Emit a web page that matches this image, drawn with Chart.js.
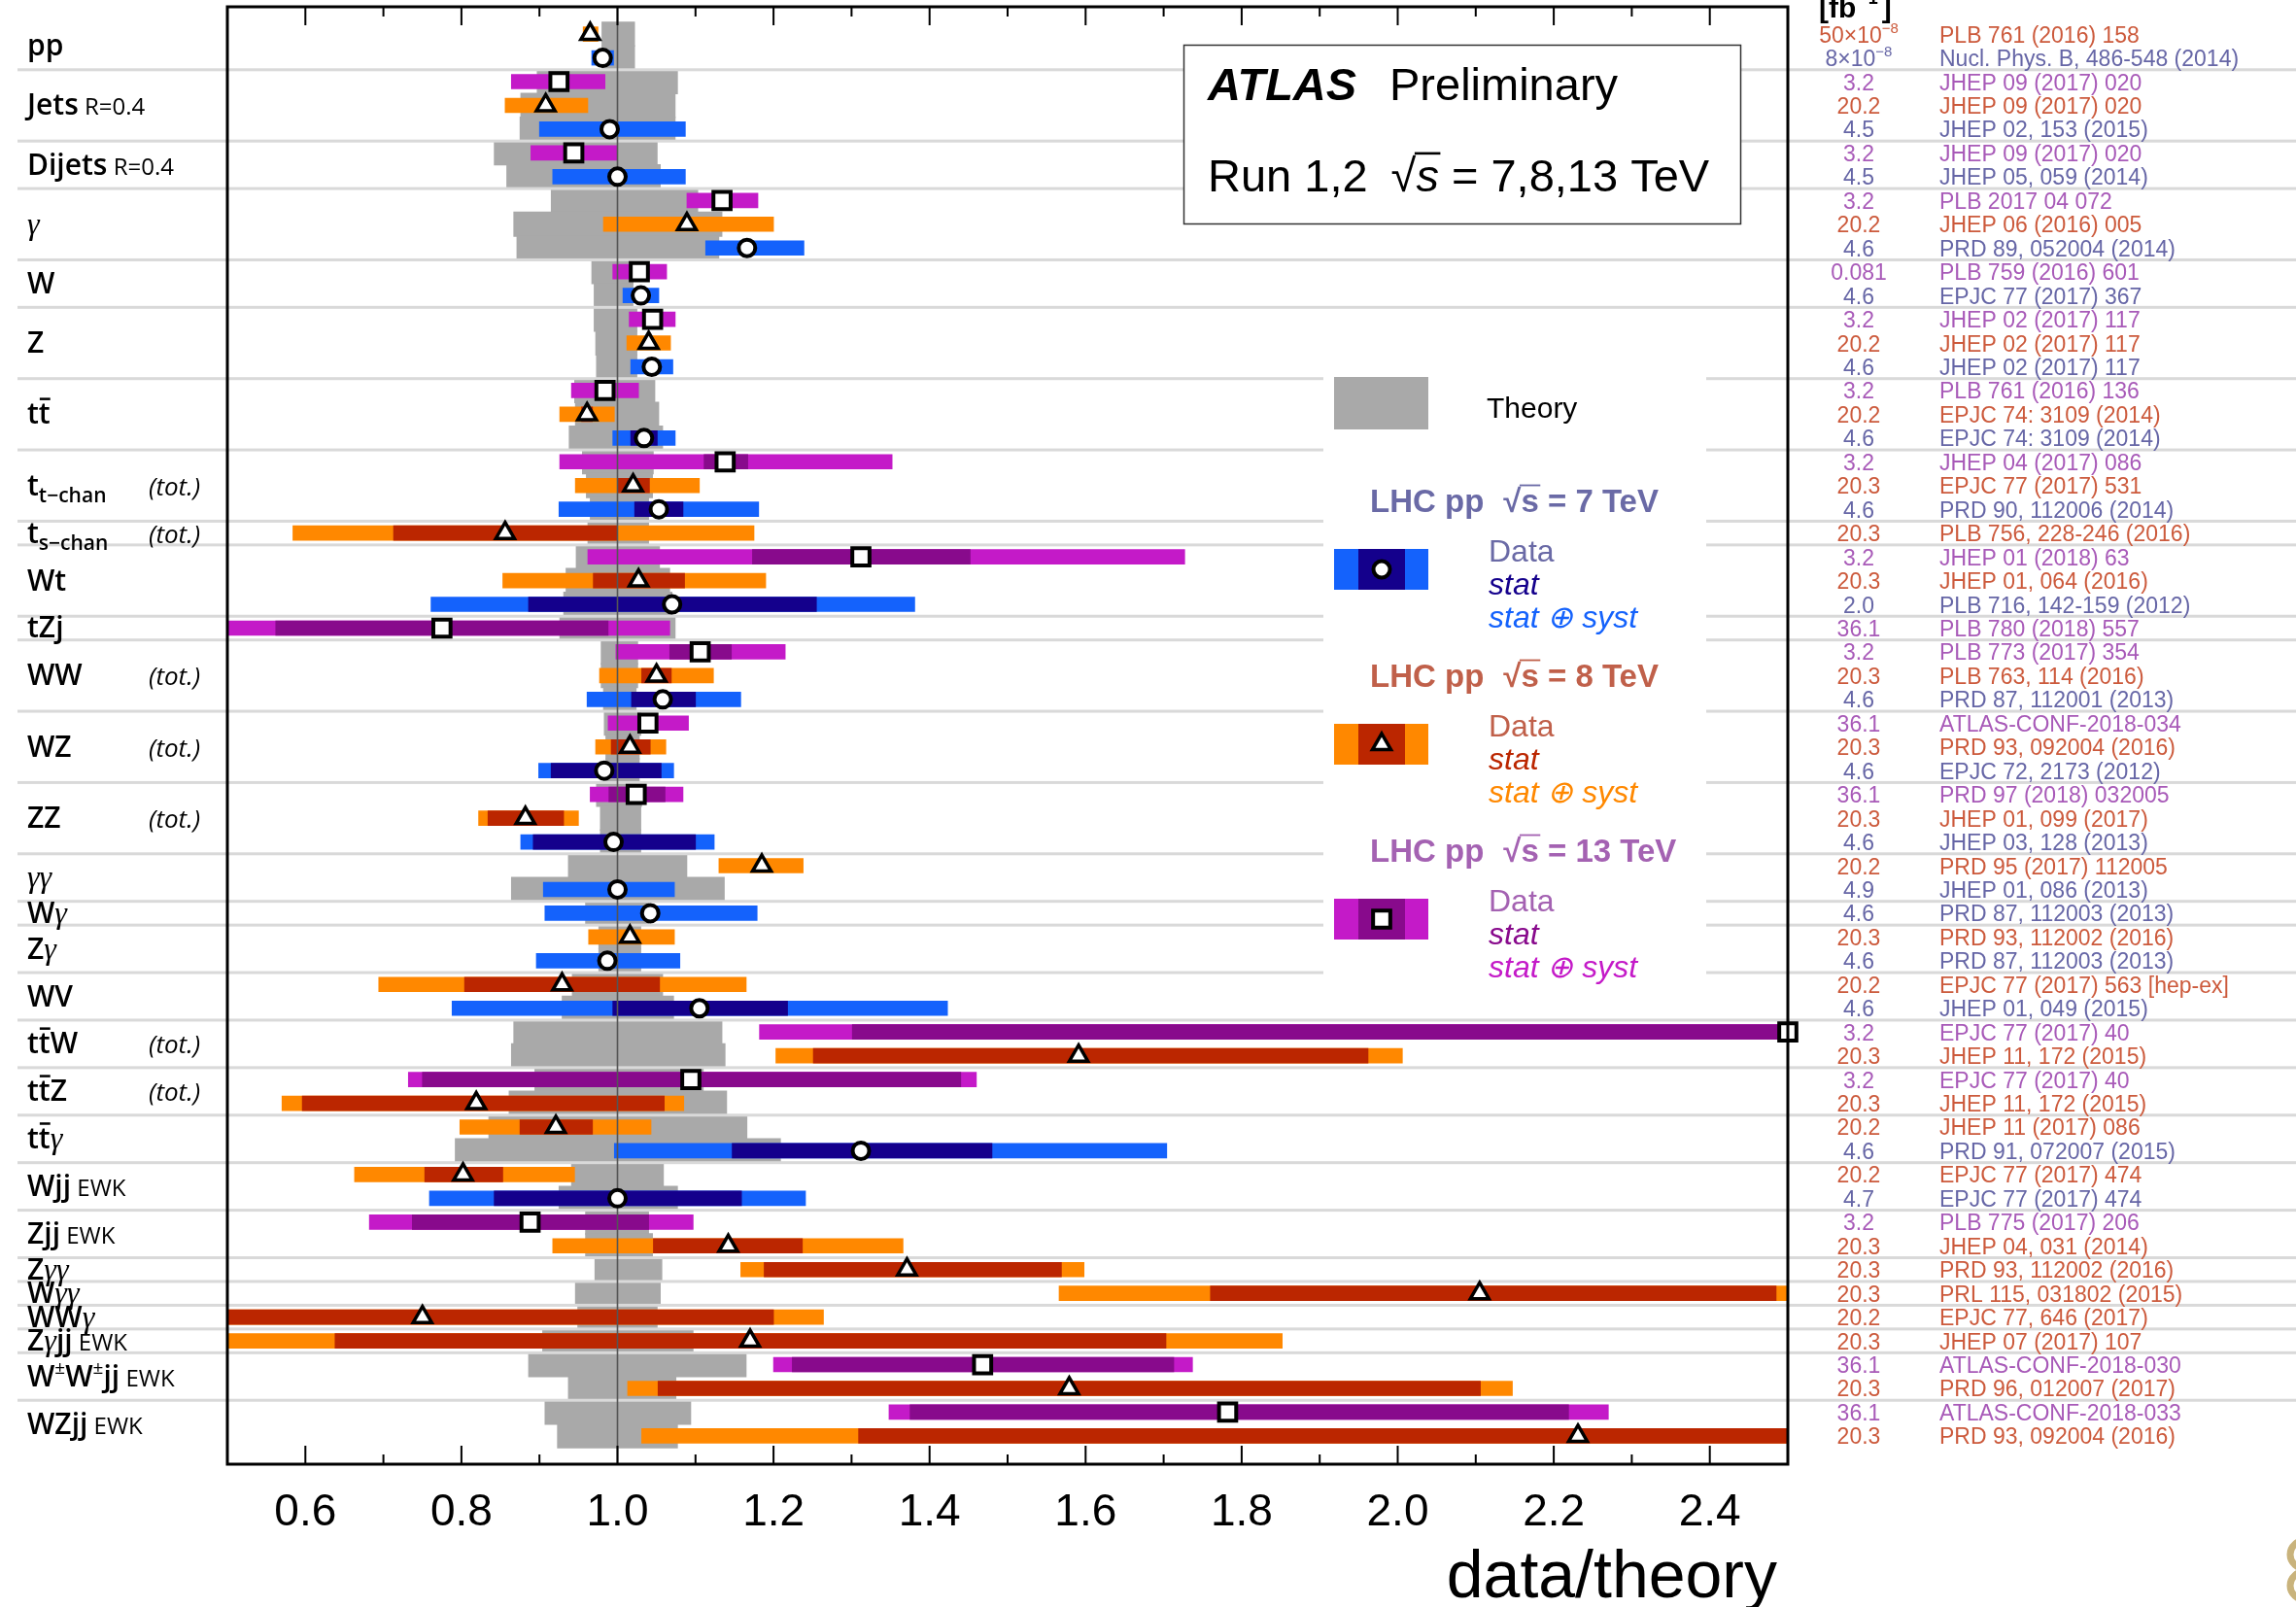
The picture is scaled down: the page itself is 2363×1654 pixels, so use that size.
<!DOCTYPE html>
<html><head><meta charset="utf-8">
<script src="https://cdn.jsdelivr.net/npm/chart.js@4.4.1/dist/chart.umd.min.js"></script>
<style>html,body{margin:0;padding:0;background:#fff;overflow:hidden}canvas{display:block}</style>
</head><body>
<canvas id="chart" width="2363" height="1654"></canvas>
<script>
// ---------------- DATA ----------------
const rowRefs = [
'PLB 761 (2016) 158','Nucl. Phys. B, 486-548 (2014)','JHEP 09 (2017) 020','JHEP 09 (2017) 020','JHEP 02, 153 (2015)',
'JHEP 09 (2017) 020','JHEP 05, 059 (2014)','PLB 2017 04 072','JHEP 06 (2016) 005','PRD 89, 052004 (2014)',
'PLB 759 (2016) 601','EPJC 77 (2017) 367','JHEP 02 (2017) 117','JHEP 02 (2017) 117','JHEP 02 (2017) 117',
'PLB 761 (2016) 136','EPJC 74: 3109 (2014)','EPJC 74: 3109 (2014)','JHEP 04 (2017) 086','EPJC 77 (2017) 531',
'PRD 90, 112006 (2014)','PLB 756, 228-246 (2016)','JHEP 01 (2018) 63','JHEP 01, 064 (2016)','PLB 716, 142-159 (2012)',
'PLB 780 (2018) 557','PLB 773 (2017) 354','PLB 763, 114 (2016)','PRD 87, 112001 (2013)','ATLAS-CONF-2018-034',
'PRD 93, 092004 (2016)','EPJC 72, 2173 (2012)','PRD 97 (2018) 032005','JHEP 01, 099 (2017)','JHEP 03, 128 (2013)',
'PRD 95 (2017) 112005','JHEP 01, 086 (2013)','PRD 87, 112003 (2013)','PRD 93, 112002 (2016)','PRD 87, 112003 (2013)',
'EPJC 77 (2017) 563 [hep-ex]','JHEP 01, 049 (2015)','EPJC 77 (2017) 40','JHEP 11, 172 (2015)','EPJC 77 (2017) 40',
'JHEP 11, 172 (2015)','JHEP 11 (2017) 086','PRD 91, 072007 (2015)','EPJC 77 (2017) 474','EPJC 77 (2017) 474',
'PLB 775 (2017) 206','JHEP 04, 031 (2014)','PRD 93, 112002 (2016)','PRL 115, 031802 (2015)','EPJC 77, 646 (2017)',
'JHEP 07 (2017) 107','ATLAS-CONF-2018-030','PRD 96, 012007 (2017)','ATLAS-CONF-2018-033','PRD 93, 092004 (2016)'];

const rowLumi = ['50×10^−8','8×10^−8','3.2','20.2','4.5','3.2','4.5','3.2','20.2','4.6',
'0.081','4.6','3.2','20.2','4.6','3.2','20.2','4.6','3.2','20.3',
'4.6','20.3','3.2','20.3','2.0','36.1','3.2','20.3','4.6','36.1',
'20.3','4.6','36.1','20.3','4.6','20.2','4.9','4.6','20.3','4.6',
'20.2','4.6','3.2','20.3','3.2','20.3','20.2','4.6','20.2','4.7',
'3.2','20.3','20.3','20.3','20.2','20.3','36.1','20.3','36.1','20.3'];

const rowEnergy = [8,7,13,8,7,13,7,13,8,7, 13,7,13,8,7,13,8,7,13,8, 7,8,13,8,7,13,13,8,7,13,
 8,7,13,8,7,8,7,7,8,7, 8,7,13,8,13,8,8,7,8,7, 13,8,8,8,8,8,13,8,13,8];

const rowValue = [0.965,0.981,0.925,0.908,0.990,0.944,1.000,1.134,1.089,1.166,
1.028,1.030,1.045,1.040,1.044,0.984,0.961,1.034,1.138,1.020,
1.053,0.856,1.312,1.027,1.070,0.775,1.106,1.050,1.058,1.039,
1.016,0.983,1.024,0.882,0.995,1.185,1.000,1.042,1.016,0.987,
0.929,1.105,2.500,1.591,1.094,0.819,0.921,1.312,0.802,1.000,
0.888,1.142,1.371,2.105,0.750,1.170,1.468,1.579,1.782,2.231];

const totLow = [0.956,0.967,0.864,0.856,0.900,0.889,0.917,1.089,0.982,1.113,
0.994,1.007,1.015,1.012,1.017,0.941,0.926,0.994,0.926,0.946,
0.925,0.584,0.962,0.853,0.761,0.440,0.998,0.977,0.961,0.988,
0.972,0.899,0.965,0.822,0.876,1.130,0.905,0.907,0.963,0.896,
0.694,0.788,1.182,1.203,0.732,0.570,0.798,0.996,0.663,0.759,
0.682,0.917,1.158,1.566,0.300,0.450,1.200,1.013,1.348,1.031];
const totHigh = [0.975,0.995,0.984,0.962,1.087,1.000,1.087,1.180,1.200,1.239,
1.063,1.053,1.074,1.068,1.071,1.027,0.996,1.074,1.352,1.105,
1.181,1.175,1.727,1.190,1.381,1.067,1.215,1.123,1.158,1.091,
1.062,1.072,1.084,0.950,1.124,1.238,1.073,1.179,1.073,1.080,
1.165,1.423,2.900,2.006,1.460,1.085,1.043,1.704,0.945,1.241,
1.097,1.366,1.598,2.550,1.264,1.852,1.737,2.147,2.270,2.750];

const statLow = [null,null,null,null,null,null,null,null,null,null,
null,null,null,null,null,null,0.954,1.017,1.111,1.001,
1.022,0.713,1.173,0.969,0.886,0.562,1.067,1.031,1.018,null,
0.992,0.915,0.989,0.834,0.892,null,null,null,null,null,
0.804,0.994,1.301,1.251,0.750,0.596,0.875,1.147,0.753,0.842,
0.737,1.046,1.188,1.760,0.350,0.638,1.224,1.052,1.375,1.309];
const statHigh = [null,null,null,null,null,null,null,null,null,null,
null,null,null,null,null,null,0.968,1.051,1.167,1.041,
1.084,1.000,1.452,1.086,1.255,0.988,1.146,1.069,1.100,null,
1.042,1.056,1.061,0.931,1.100,null,null,null,null,null,
1.054,1.218,2.700,1.962,1.440,1.060,0.968,1.480,0.853,1.159,
1.040,1.237,1.569,2.485,1.200,1.703,1.713,2.106,2.219,2.600];

const theoryLow = [0.980,0.980,0.897,0.876,0.875,0.842,0.858,0.915,0.867,0.871,
0.967,0.970,0.970,0.972,0.973,0.945,0.946,0.938,0.955,0.960,
0.965,0.962,0.947,0.934,0.931,0.926,0.979,0.979,0.982,0.983,
0.985,0.985,0.973,0.978,0.978,0.937,0.864,0.959,0.976,0.976,
0.942,0.929,0.867,0.864,0.894,0.861,0.835,0.792,0.941,0.925,
0.959,0.959,0.971,0.946,0.949,0.904,0.886,0.937,0.907,0.923];
const theoryHigh = [1.022,1.022,1.077,1.074,1.074,1.051,1.055,1.103,1.134,1.130,
1.020,1.020,1.025,1.025,1.025,1.048,1.053,1.058,1.046,1.045,
1.040,1.040,1.054,1.067,1.070,1.074,1.026,1.026,1.024,1.030,
1.028,1.028,1.031,1.030,1.030,1.089,1.137,1.040,1.030,1.030,
1.058,1.072,1.134,1.138,1.110,1.140,1.166,1.209,1.059,1.077,
1.040,1.045,1.057,1.055,1.051,1.097,1.165,1.075,1.094,1.077];

const groupStart = [0,2,5,7,10,12,15,18,21,22,25,26,29,32,35,37,38,40,42,44,46,48,50,52,53,54,55,56,58];
const groupLabels = [
 [['pp','m']],
 [['Jets','m'],[' R=0.4','s']],
 [['Dijets','m'],[' R=0.4','s']],
 [['γ','g']],
 [['W','m']],
 [['Z','m']],
 [['t','m'],['t','bar']],
 [['t','m'],['t−chan','sub']],
 [['t','m'],['s−chan','sub']],
 [['Wt','m']],
 [['tZj','m']],
 [['WW','m']],
 [['WZ','m']],
 [['ZZ','m']],
 [['γγ','g']],
 [['W','m'],['γ','g']],
 [['Z','m'],['γ','g']],
 [['WV','m']],
 [['t','m'],['t','bar'],['W','m']],
 [['t','m'],['t','bar'],['Z','m']],
 [['t','m'],['t','bar'],['γ','g']],
 [['Wjj','m'],[' EWK','s']],
 [['Zjj','m'],[' EWK','s']],
 [['Z','m'],['γγ','g']],
 [['W','m'],['γγ','g']],
 [['WW','m'],['γ','g']],
 [['Z','m'],['γ','g'],['jj','m'],[' EWK','s']],
 [['W','m'],['±','sup'],['W','m'],['±','sup'],['jj','m'],[' EWK','s']],
 [['WZjj','m'],[' EWK','s']]
];
const groupTotal = [false,false,false,false,false,false,false,true,true,false,false,true,true,true,false,false,false,false,true,true,false,false,false,false,false,false,false,false,false];

const xTickValues = [0.6,0.8,1.0,1.2,1.4,1.6,1.8,2.0,2.2,2.4];
const xTickLabels = ['0.6','0.8','1.0','1.2','1.4','1.6','1.8','2.0','2.2','2.4'];
const xMinorValues = [0.7,0.9,1.1,1.3,1.5,1.7,1.9,2.1,2.3];
const energies = [7,8,13];

// ---------------- STYLE ----------------
const W = 2363, H = 1654;
const AREA = {left:234, right:1840, top:7, bottom:1507};
const Y_MIN = -1.15, Y_MAX = 60.19;
const ROW_PX = (AREA.bottom - AREA.top) / (Y_MAX - Y_MIN);
const SANS = '"Liberation Sans", Arial, sans-serif';
const LBL = '"Open Sans", "Liberation Sans", sans-serif';
const STY = {
  7:  {tot:'#1462fc', stat:'#14008c', style:'circle',   r:8.5, bw:4,   txt:'#6666a6', head:'#6a6aa6'},
  8:  {tot:'#ff8800', stat:'#bb2600', style:'triangle', r:11,  bw:3.5, txt:'#cc5a3c', head:'#c0604a'},
  13: {tot:'#c41ac8', stat:'#880a8c', style:'rect',     r:12.5,bw:4,   txt:'#a85ab8', head:'#a462b2'}
};
const THEORY = '#a9a9a9';
const SEP = '#d9d9d9';

// ---------------- DATASETS ----------------
const datasets = [];
datasets.push({
  type:'bar', layer:'theory', order:50, indexAxis:'y', grouped:false,
  data: rowValue.map((v,i)=>({x:[theoryLow[i], theoryHigh[i]], y:i})),
  backgroundColor: THEORY, barThickness: ROW_PX + 0.8, borderWidth:0
});
energies.forEach(e=>{
  const idx = rowEnergy.map((en,i)=>en===e?i:-1).filter(i=>i>=0);
  datasets.push({
    type:'bar', layer:'tot', order:40, indexAxis:'y', grouped:false,
    data: idx.map(i=>({x:[totLow[i], totHigh[i]], y:i})),
    backgroundColor: STY[e].tot, barThickness: 15, borderWidth:0
  });
  datasets.push({
    type:'bar', layer:'stat', order:30, indexAxis:'y', grouped:false,
    data: idx.filter(i=>statLow[i]!==null).map(i=>({x:[statLow[i], statHigh[i]], y:i})),
    backgroundColor: STY[e].stat, barThickness: 15, borderWidth:0
  });
  datasets.push({
    type:'scatter', layer:'mark', order:10, clip:false,
    data: idx.map(i=>({x:rowValue[i], y:i})),
    pointStyle: STY[e].style, pointRadius: STY[e].r, pointBorderWidth: STY[e].bw,
    pointBackgroundColor:'#ffffff', pointBorderColor:'#000000', showLine:false
  });
});

// ---------------- DRAW HELPERS ----------------
function drawSqrtS(ctx, x, base, size, rootFont, sFont){
  ctx.font = rootFont; ctx.fillText('√', x, base);
  const w1 = ctx.measureText('√').width;
  ctx.font = sFont; ctx.fillText('s', x + w1, base);
  const w2 = ctx.measureText('s').width;
  ctx.fillRect(x + w1 - 1.5, base - size*0.86, w2 + 3, Math.max(1.6, size*0.055));
  return x + w1 + w2;
}
function drawMarker(ctx, style, x, y, r, bw){
  ctx.save();
  ctx.beginPath();
  if (style==='circle') ctx.arc(x,y,r,0,Math.PI*2);
  else if (style==='rect'){ const s=r*Math.SQRT1_2; ctx.rect(x-s,y-s,2*s,2*s); }
  else { for(let k=0;k<3;k++){ const a=k*2*Math.PI/3; const px=x+Math.sin(a)*r, py=y-Math.cos(a)*r; k?ctx.lineTo(px,py):ctx.moveTo(px,py);} ctx.closePath(); }
  ctx.fillStyle='#fff'; ctx.fill(); ctx.lineWidth=bw; ctx.strokeStyle='#000'; ctx.stroke();
  ctx.restore();
}
const TOK = {
  m:  {font:'600 30px '+LBL, dy:0},
  bar:{font:'600 30px '+LBL, dy:0},
  s:  {font:'400 24px '+LBL, dy:0},
  sub:{font:'600 21px '+LBL, dy:7},
  sup:{font:'400 19px '+LBL, dy:-13},
  g:  {font:'italic 32px "Liberation Serif", serif', dy:0}
};
function drawTokens(ctx, tokens, x, base){
  tokens.forEach(([t,st])=>{
    const f = TOK[st];
    ctx.font = f.font;
    ctx.fillText(t, x, base + f.dy);
    const w = ctx.measureText(t).width;
    if (st==='bar') ctx.fillRect(x+1, base-27, w-1, 2.5);
    x += w;
  });
}
function drawLumi(ctx, s, cx, base){
  ctx.font = '23px '+SANS;
  const parts = s.split('^');
  if (parts.length===1){ ctx.textAlign='center'; ctx.fillText(s, cx, base); ctx.textAlign='left'; return; }
  const w1 = ctx.measureText(parts[0]).width;
  ctx.font = '15px '+SANS; const w2 = ctx.measureText(parts[1]).width;
  const x0 = cx - (w1+w2)/2;
  ctx.font = '23px '+SANS; ctx.fillText(parts[0], x0, base);
  ctx.font = '15px '+SANS; ctx.fillText(parts[1], x0+w1, base-10);
}

const deco = {
  id:'deco',
  beforeDatasetsDraw(chart){ chart.$unityDone=false; },
  afterDatasetDraw(chart, args){
    const ds = chart.data.datasets[args.index];
    if (ds.layer!=='theory') return;
    const ctx = chart.ctx, ys = chart.scales.y;
    ctx.save(); ctx.fillStyle = SEP;
    for (let g=1; g<groupStart.length; g++){
      const y = ys.getPixelForValue(groupStart[g]-0.5);
      ctx.fillRect(18, y-1.5, W-18, 3);
    }
    ctx.restore();
  },
  beforeDatasetDraw(chart, args){
    const ds = chart.data.datasets[args.index];
    if (ds.layer!=='mark' || chart.$unityDone) return;
    chart.$unityDone = true;
    const ctx = chart.ctx, xs = chart.scales.x, a = chart.chartArea;
    const x = xs.getPixelForValue(1.0);
    ctx.save(); ctx.strokeStyle='#555'; ctx.lineWidth=1.6;
    ctx.beginPath(); ctx.moveTo(x, a.top); ctx.lineTo(x, a.bottom); ctx.stroke(); ctx.restore();
  },
  afterDraw(chart){
    const ctx = chart.ctx, xs = chart.scales.x, ys = chart.scales.y, a = chart.chartArea;
    ctx.save();
    // ATLAS box
    ctx.fillStyle='#fff'; ctx.fillRect(1218,46,574,185);
    ctx.strokeStyle='#333'; ctx.lineWidth=1.5; ctx.strokeRect(1218.5,46.5,573,184);
    ctx.fillStyle='#000'; ctx.textBaseline='alphabetic'; ctx.textAlign='left';
    ctx.font='italic bold 47px '+SANS; ctx.fillText('ATLAS', 1243, 103);
    ctx.font='47px '+SANS; ctx.fillText('Preliminary', 1430, 103);
    ctx.fillText('Run 1,2', 1243, 197);
    let xx = 1243 + ctx.measureText('Run 1,2').width + 24;
    xx = drawSqrtS(ctx, xx, 197, 47, '47px '+SANS, 'italic 47px '+SANS);
    ctx.font='47px '+SANS; ctx.fillText(' = 7,8,13 TeV', xx, 197);

    // Legend
    ctx.fillStyle='#fff'; ctx.fillRect(1362,380,394,645);
    ctx.fillStyle=THEORY; ctx.fillRect(1373,388,97,54);
    ctx.fillStyle='#000'; ctx.font='30px '+SANS; ctx.fillText('Theory', 1530, 430);
    energies.forEach((e,k)=>{
      const off = k*180, S = STY[e];
      ctx.fillStyle = S.head;
      ctx.font='bold 33px '+SANS;
      const hb = 527+off;
      ctx.fillText('LHC pp', 1410, hb);
      let hx = 1410 + ctx.measureText('LHC pp').width + 20;
      hx = drawSqrtS(ctx, hx, hb, 33, 'bold 33px '+SANS, 'bold 33px '+SANS);
      ctx.font='bold 33px '+SANS; ctx.fillText(' = '+e+' TeV', hx, hb);
      const bt = 565+off;
      ctx.fillStyle=S.tot; ctx.fillRect(1373,bt,97,42);
      ctx.fillStyle=S.stat; ctx.fillRect(1398,bt,48,42);
      drawMarker(ctx, S.style, 1422, bt+21, S.r, S.bw);
      ctx.fillStyle=S.head; ctx.font='32px '+SANS; ctx.fillText('Data', 1532, 578+off);
      ctx.fillStyle=S.stat; ctx.font='italic 32px '+SANS; ctx.fillText('stat', 1532, 612+off);
      ctx.fillStyle=S.tot; ctx.fillText('stat ⊕ syst', 1532, 646+off);
    });

    // frame
    ctx.strokeStyle='#000'; ctx.lineWidth=3;
    ctx.strokeRect(a.left, a.top, a.right-a.left, a.bottom-a.top);
    ctx.lineWidth=2;
    const tick=(v,len)=>{ const x=xs.getPixelForValue(v);
      ctx.beginPath(); ctx.moveTo(x,a.top); ctx.lineTo(x,a.top+len); ctx.moveTo(x,a.bottom); ctx.lineTo(x,a.bottom-len); ctx.stroke(); };
    xTickValues.forEach(v=>tick(v,19));
    xMinorValues.forEach(v=>tick(v,10));
    ctx.fillStyle='#000'; ctx.font='46px '+SANS; ctx.textAlign='center';
    xTickValues.forEach((v,i)=>ctx.fillText(xTickLabels[i], xs.getPixelForValue(v), 1570));
    ctx.textAlign='right'; ctx.font='68px '+SANS;
    ctx.fillText('data/theory', 1829, 1644);
    ctx.textAlign='left';

    // left labels
    ctx.fillStyle='#000';
    for (let g=0; g<groupStart.length; g++){
      const end = (g+1<groupStart.length?groupStart[g+1]:rowValue.length)-1;
      const yc = ys.getPixelForValue((groupStart[g]+end)/2);
      drawTokens(ctx, groupLabels[g], 28, yc+10);
      if (groupTotal[g]){ ctx.font='italic 400 26px '+LBL; ctx.fillText('(tot.)', 153, yc+10); }
    }

    // right texts
    ctx.font='bold 30px '+SANS; ctx.fillStyle='#000';
    ctx.fillText('[fb', 1872, 18);
    let fx = 1872 + ctx.measureText('[fb').width + 2;
    ctx.font='bold 18px '+SANS; ctx.fillText('−1', fx, 4); fx += ctx.measureText('−1').width + 4;
    ctx.font='bold 30px '+SANS; ctx.fillText(']', fx, 18);
    rowRefs.forEach((ref,i)=>{
      const y = ys.getPixelForValue(i) + 8.5;
      ctx.fillStyle = STY[rowEnergy[i]].txt;
      drawLumi(ctx, rowLumi[i], 1913, y);
      ctx.font='23px '+SANS; ctx.textAlign='left';
      ctx.fillText(ref, 1996, y);
    });

    // partially visible logo at the bottom-right edge
    ctx.strokeStyle='#c9b37c'; ctx.lineWidth=7;
    ctx.beginPath(); ctx.ellipse(2374, 1600, 17, 15, 0, 0, Math.PI*2); ctx.stroke();
    ctx.beginPath(); ctx.ellipse(2374, 1632, 17, 15, 0, 0, Math.PI*2); ctx.stroke();
    ctx.restore();
  }
};

const chart = new Chart(document.getElementById('chart'), {
  type:'bar',
  data:{ datasets },
  options:{
    responsive:false, animation:false, indexAxis:'y',
    layout:{autoPadding:false, padding:{left:AREA.left, right:W-AREA.right, top:AREA.top, bottom:H-AREA.bottom}},
    plugins:{legend:{display:false}, tooltip:{enabled:false}, title:{display:false}},
    scales:{
      x:{type:'linear', min:0.5, max:2.5, display:false, offset:false, bounds:'data',
         afterBuildTicks:(s)=>{ s.min=0.5; s.max=2.5; }},
      y:{type:'linear', min:Y_MIN, max:Y_MAX, reverse:true, display:false, offset:false, bounds:'data',
         afterBuildTicks:(s)=>{ s.min=Y_MIN; s.max=Y_MAX; }}
    }
  },
  plugins:[deco]
});
// make the plotting area land exactly on the intended frame
(function fixArea(){
  const ca = chart.chartArea, p = chart.options.layout.padding;
  const dT = AREA.top - ca.top, dB = ca.bottom - AREA.bottom, dL = AREA.left - ca.left, dR = ca.right - AREA.right;
  if (Math.abs(dT)+Math.abs(dB)+Math.abs(dL)+Math.abs(dR) > 0.5){
    p.top += dT; p.bottom += dB; p.left += dL; p.right += dR;
    chart.update();
  }
})();
</script>
</body></html>
